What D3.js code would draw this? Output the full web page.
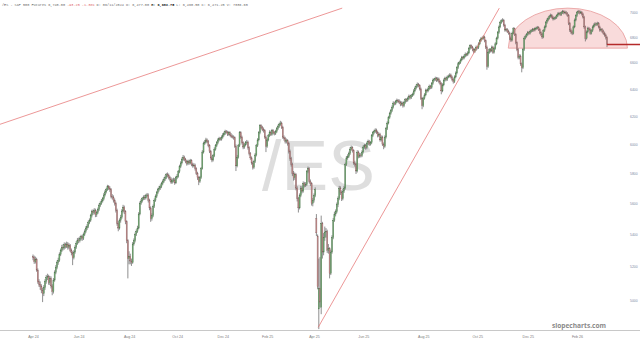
<!DOCTYPE html>
<html><head><meta charset="utf-8">
<script src="https://cdn.jsdelivr.net/npm/d3@7"></script>
<style>html,body{margin:0;padding:0;background:#fff;overflow:hidden}svg{display:block}</style>
</head><body><svg id="c" width="640" height="342"></svg>
<script>
const opens=[
5262,5255,5230,5245,5180,5110,5095,5080,5060,5040,
5075,5110,5135,5140,5105,5130,5085,5050,5120,5165,
5195,5225,5240,5275,5300,5320,5315,5335,5325,5340,
5320,5330,5300,5285,5255,5290,5320,5345,5365,5360,
5375,5385,5375,5400,5420,5440,5450,5475,5490,5520,
5545,5540,5555,5525,5540,5560,5585,5600,5615,5630,
5655,5675,5690,5712,5700,5690,5645,5640,5620,5600,
5555,5470,5440,5490,5510,5550,5575,5545,5480,5360,
5250,5265,5235,5225,5340,5360,5400,5420,5440,5530,
5600,5615,5630,5640,5635,5650,5655,5620,5570,5500,
5520,5580,5620,5645,5670,5690,5700,5710,5730,5745,
5760,5770,5790,5785,5770,5760,5740,5750,5755,5735,
5770,5780,5810,5845,5870,5895,5910,5895,5880,5865,
5880,5870,5885,5860,5850,5855,5830,5800,5770,5745,
5770,5830,5945,6005,6015,6030,6020,5990,5950,5905,
5890,5920,5965,5990,6010,6030,6040,6035,6050,6065,
6075,6090,6085,6070,6080,6065,6055,6050,6045,5985,
5850,5910,5990,6080,6050,6010,5980,5995,6010,6015,
5975,5935,5905,5870,5840,5880,5925,5990,6030,6080,
6130,6120,6105,6095,6050,5985,6030,6060,6085,6070,
6095,6080,6075,6090,6110,6125,6140,6150,6120,6050,
6040,6020,6025,6005,5950,5900,5860,5800,5770,5790,
5700,5630,5570,5650,5700,5680,5730,5720,5725,5810,
5830,5745,5730,5600,5620,5650,5500,5390,4950,5070,
4960,5470,5290,5380,5415,5420,5300,5310,5160,5290,
5380,5490,5530,5545,5590,5630,5700,5670,5630,5680,
5700,5860,5905,5915,5935,5965,5975,5955,5870,5860,
5815,5945,5915,5925,5920,5945,5980,5990,5975,6005,
6020,6000,6010,6060,6080,6090,6100,6085,6060,6070,
6030,6050,6000,5985,6050,6110,6150,6190,6220,6240,
6265,6295,6290,6305,6315,6310,6300,6285,6295,6275,
6300,6320,6315,6330,6345,6335,6350,6360,6385,6405,
6420,6435,6425,6400,6330,6275,6330,6355,6390,6385,
6400,6420,6410,6440,6465,6470,6480,6465,6475,6455,
6440,6385,6430,6465,6480,6470,6490,6495,6505,6490,
6470,6455,6490,6520,6560,6590,6600,6620,6640,6635,
6650,6665,6660,6675,6710,6730,6720,6700,6685,6700,
6720,6715,6745,6770,6785,6790,6800,6770,6720,6570,
6680,6700,6690,6720,6680,6710,6745,6790,6835,6880,
6915,6930,6935,6895,6855,6860,6845,6830,6790,6775,
6830,6865,6820,6755,6700,6640,6650,6590,6560,6700,
6790,6805,6820,6835,6830,6845,6850,6860,6855,6865,
6870,6875,6860,6835,6820,6800,6850,6880,6915,6935,
6950,6965,6975,6960,6945,6950,6955,6970,6985,6990,
6980,6995,7005,6995,7000,6990,6975,6910,6855,6840,
6830,6880,6935,6970,6995,7005,6995,7000,6985,6960,
6880,6790,6840,6870,6860,6830,6850,6880,6895,6905,
6900,6910,6880,6855,6860,6845,6830,6815,6795];
const highs=[
5275,5268,5262,5255,5190,5125,5112,5095,5075,5090,
5125,5150,5158,5152,5145,5142,5095,5132,5178,5210,
5238,5255,5288,5312,5335,5338,5350,5348,5355,5352,
5345,5340,5312,5295,5302,5332,5358,5378,5380,5388,
5398,5395,5412,5432,5452,5465,5488,5502,5532,5558,
5560,5568,5565,5552,5572,5598,5612,5628,5642,5668,
5688,5702,5722,5720,5712,5700,5660,5652,5632,5610,
5565,5485,5502,5525,5562,5590,5585,5555,5490,5370,
5295,5280,5250,5352,5375,5412,5432,5455,5542,5612,
5628,5642,5652,5655,5662,5668,5665,5630,5580,5535,
5592,5632,5658,5682,5702,5715,5725,5742,5758,5772,
5785,5802,5805,5798,5782,5772,5765,5770,5768,5782,
5795,5822,5858,5882,5908,5925,5920,5905,5890,5892,
5892,5898,5895,5872,5868,5865,5840,5810,5780,5782,
5842,5958,6018,6030,6045,6040,6030,6000,5960,5918,
5932,5978,6002,6022,6042,6052,6050,6062,6078,6088,
6102,6100,6095,6092,6090,6078,6068,6062,6055,5998,
5925,6002,6092,6092,6060,6020,6008,6022,6030,6025,
5985,5945,5915,5880,5892,5938,6002,6042,6092,6142,
6140,6130,6118,6105,6060,6042,6072,6098,6095,6108,
6105,6092,6102,6122,6138,6152,6166,6160,6130,6062,
6052,6040,6035,6015,5962,5912,5872,5815,5805,5800,
5712,5642,5665,5715,5712,5745,5742,5740,5822,5845,
5840,5758,5740,5635,5665,5705,5530,5400,5250,5260,
5520,5480,5410,5450,5440,5430,5340,5320,5305,5395,
5505,5545,5560,5605,5645,5715,5712,5685,5695,5715,
5872,5918,5930,5948,5978,5990,5985,5965,5885,5870,
5958,5955,5940,5938,5958,5992,6002,6002,6018,6032,
6030,6022,6072,6092,6102,6112,6110,6095,6082,6080,
6062,6060,6012,6062,6122,6162,6202,6232,6252,6278,
6308,6305,6318,6328,6325,6322,6312,6308,6305,6312,
6332,6330,6342,6358,6355,6362,6372,6398,6418,6432,
6448,6445,6435,6410,6340,6342,6368,6402,6400,6412,
6432,6430,6452,6478,6482,6492,6490,6488,6485,6465,
6450,6442,6478,6492,6490,6502,6508,6518,6515,6500,
6480,6502,6532,6572,6602,6612,6632,6652,6650,6662,
6678,6675,6688,6722,6742,6740,6730,6712,6712,6732,
6730,6758,6782,6798,6802,6812,6810,6780,6732,6692,
6712,6712,6732,6730,6722,6758,6802,6848,6892,6928,
6942,6950,6945,6905,6872,6870,6858,6840,6802,6842,
6878,6875,6830,6765,6712,6665,6662,6600,6712,6802,
6818,6832,6848,6845,6858,6862,6872,6870,6878,6882,
6888,6885,6870,6845,6832,6862,6892,6928,6948,6962,
6978,6988,6985,6970,6962,6968,6982,6998,7002,7000,
7008,7018,7015,7012,7010,7000,6985,6920,6868,6852,
6892,6948,6982,7008,7018,7015,7012,7010,6995,6970,
6890,6852,6882,6880,6870,6862,6892,6908,6918,6915,
6922,6920,6890,6872,6870,6858,6842,6825,6805];
const lows=[
5240,5218,5220,5170,5098,5080,5062,5042,4990,5025,
5062,5098,5120,5092,5090,5070,5030,5040,5110,5155,
5185,5212,5230,5265,5290,5300,5305,5312,5315,5305,
5308,5290,5270,5210,5245,5280,5310,5335,5345,5350,
5362,5360,5365,5390,5410,5428,5440,5465,5480,5508,
5525,5528,5510,5512,5530,5550,5575,5590,5605,5620,
5645,5665,5682,5688,5675,5632,5625,5605,5585,5540,
5455,5420,5430,5475,5500,5540,5530,5465,5345,5130,
5215,5215,5205,5218,5330,5350,5390,5410,5432,5522,
5590,5605,5620,5622,5625,5640,5605,5555,5480,5488,
5510,5570,5610,5635,5660,5678,5688,5700,5720,5735,
5748,5760,5772,5758,5745,5728,5730,5738,5722,5728,
5760,5770,5800,5835,5860,5885,5882,5868,5852,5855,
5858,5860,5848,5838,5840,5818,5788,5755,5720,5735,
5762,5825,5935,5995,6005,6008,5978,5938,5892,5875,
5880,5910,5955,5980,6000,6020,6025,6025,6040,6055,
6065,6075,6058,6060,6055,6045,6040,6032,5975,5815,
5840,5900,5980,6038,5998,5965,5968,5985,5998,5962,
5922,5892,5858,5825,5830,5870,5915,5980,6020,6070,
6108,6092,6082,6038,5945,5975,6020,6050,6058,6060,
6068,6062,6065,6080,6100,6115,6130,6108,6038,6025,
6005,6005,5990,5935,5885,5845,5782,5750,5755,5685,
5612,5540,5560,5640,5665,5670,5705,5708,5715,5800,
5732,5715,5585,5580,5605,5640,5390,5065,4835,4960,
4920,5250,5270,5360,5380,5285,5280,5130,5150,5280,
5370,5480,5515,5535,5575,5620,5655,5615,5620,5668,
5690,5850,5892,5905,5925,5955,5942,5858,5845,5795,
5805,5902,5905,5908,5910,5935,5968,5962,5965,5995,
5988,5990,6000,6050,6070,6080,6072,6048,6050,6018,
6020,5988,5965,5975,6040,6100,6140,6180,6210,6230,
6255,6278,6280,6295,6298,6288,6272,6275,6262,6265,
6290,6302,6305,6320,6322,6325,6340,6350,6375,6395,
6410,6412,6388,6318,6250,6265,6320,6345,6372,6375,
6390,6398,6400,6430,6455,6460,6452,6455,6442,6428,
6360,6375,6420,6455,6458,6460,6480,6485,6478,6458,
6440,6445,6480,6510,6550,6580,6590,6610,6622,6625,
6640,6648,6650,6665,6700,6708,6688,6672,6675,6690,
6702,6705,6735,6760,6775,6780,6758,6705,6545,6560,
6668,6678,6680,6668,6670,6700,6735,6780,6825,6870,
6905,6918,6882,6842,6845,6832,6818,6775,6760,6765,
6820,6808,6742,6688,6625,6625,6575,6525,6550,6690,
6780,6795,6810,6818,6820,6835,6840,6842,6845,6855,
6860,6848,6822,6808,6785,6790,6840,6870,6905,6925,
6940,6955,6948,6932,6935,6940,6945,6960,6975,6968,
6970,6985,6982,6985,6978,6962,6895,6840,6825,6815,
6820,6870,6925,6960,6985,6982,6985,6972,6948,6865,
6765,6780,6830,6848,6818,6820,6840,6870,6885,6888,
6890,6868,6842,6845,6832,6818,6802,6780,6720];
const closes=[
5255,5230,5245,5180,5110,5095,5080,5060,5040,5075,
5110,5135,5140,5105,5130,5085,5050,5120,5165,5195,
5225,5240,5275,5300,5320,5315,5335,5325,5340,5320,
5330,5300,5285,5255,5290,5320,5345,5365,5360,5375,
5385,5375,5400,5420,5440,5450,5475,5490,5520,5545,
5540,5555,5525,5540,5560,5585,5600,5615,5630,5655,
5675,5690,5712,5700,5690,5645,5640,5620,5600,5555,
5470,5440,5490,5510,5550,5575,5545,5480,5360,5250,
5265,5235,5225,5340,5360,5400,5420,5440,5530,5600,
5615,5630,5640,5635,5650,5655,5620,5570,5500,5520,
5580,5620,5645,5670,5690,5700,5710,5730,5745,5760,
5770,5790,5785,5770,5760,5740,5750,5755,5735,5770,
5780,5810,5845,5870,5895,5910,5895,5880,5865,5880,
5870,5885,5860,5850,5855,5830,5800,5770,5745,5770,
5830,5945,6005,6015,6030,6020,5990,5950,5905,5890,
5920,5965,5990,6010,6030,6040,6035,6050,6065,6075,
6090,6085,6070,6080,6065,6055,6050,6045,5985,5850,
5910,5990,6080,6050,6010,5980,5995,6010,6015,5975,
5935,5905,5870,5840,5880,5925,5990,6030,6080,6130,
6120,6105,6095,6050,5985,6030,6060,6085,6070,6095,
6080,6075,6090,6110,6125,6140,6150,6120,6050,6040,
6020,6025,6005,5950,5900,5860,5800,5770,5790,5700,
5630,5570,5650,5700,5680,5730,5720,5725,5810,5830,
5745,5730,5600,5620,5650,5690,5410,5080,5070,4990,
5470,5290,5380,5415,5420,5300,5310,5160,5290,5380,
5490,5530,5545,5590,5630,5700,5670,5630,5680,5700,
5860,5905,5915,5935,5965,5975,5955,5870,5860,5815,
5945,5915,5925,5920,5945,5980,5990,5975,6005,6020,
6000,6010,6060,6080,6090,6100,6085,6060,6070,6030,
6050,6000,5985,6050,6110,6150,6190,6220,6240,6265,
6295,6290,6305,6315,6310,6300,6285,6295,6275,6300,
6320,6315,6330,6345,6335,6350,6360,6385,6405,6420,
6435,6425,6400,6330,6275,6330,6355,6390,6385,6400,
6420,6410,6440,6465,6470,6480,6465,6475,6455,6440,
6385,6430,6465,6480,6470,6490,6495,6505,6490,6470,
6455,6490,6520,6560,6590,6600,6620,6640,6635,6650,
6665,6660,6675,6710,6730,6720,6700,6685,6700,6720,
6715,6745,6770,6785,6790,6800,6770,6720,6570,6680,
6700,6690,6720,6680,6710,6745,6790,6835,6880,6915,
6930,6935,6895,6855,6860,6845,6830,6790,6775,6830,
6865,6820,6755,6700,6640,6650,6590,6560,6700,6790,
6805,6820,6835,6830,6845,6850,6860,6855,6865,6870,
6875,6860,6835,6820,6800,6850,6880,6915,6935,6950,
6965,6975,6960,6945,6950,6955,6970,6985,6990,6980,
6995,7005,6995,7000,6990,6975,6910,6855,6840,6830,
6880,6935,6970,6995,7005,6995,7000,6985,6960,6880,
6790,6840,6870,6860,6830,6850,6880,6895,6905,6900,
6910,6880,6855,6860,6845,6830,6815,6795,6740];

const xTickIdx=[0,38,80,120,158,195,234,275,325,370,412,453];
const xTickLabels=["Apr 24","Jun 24","Aug 24","Oct 24","Dec 24","Feb 25","Apr 25","Jun 25","Aug 25","Oct 25","Dec 25","Feb 26"];
const yTicks=[5000,5200,5400,5600,5800,6000,6200,6400,6600,6800,7000];
const trendA=[[-27.5,6141],[257.5,7033]];
const trendB=[[237.5,4845],[388.3,7033]];
const arcIdx=[395.8,495];
const arcPrice=[6712,7033];
const lastPrice=6740;
const headerParts=[
 {t:"/ES - S&P 500 Futures 6,740.00 ",c:"#6a6a6a",w:"normal"},
 {t:"-93.25 -1.38% ",c:"#e06a6a",w:"normal"},
 {t:"D: 06/11/2024 O: 6,477.00 ",c:"#6a6a6a",w:"normal"},
 {t:"H: 6,683.75",c:"#222",w:"bold"},
 {t:" L: 6,460.50 C: 6,471.25 V: 7036.65",c:"#6a6a6a",w:"normal"}];

const svg=d3.select("#c");
svg.append("rect").attr("width",640).attr("height",342).attr("fill","#fff");
const N=closes.length;
const x=d3.scaleLinear().domain([0,N-1]).range([33,607]);
const y=d3.scaleLog().domain([4830,7100]).range([330,0]);

// watermark
svg.append("text").attr("x",262).attr("y",190).text("/ES")
 .attr("font-family","Liberation Sans, Arial, sans-serif").attr("font-size",70)
 .attr("fill","#d6d6d6").attr("fill-opacity",0.8);

// arc (half ellipse)
{
 const xl=x(arcIdx[0]),xr=x(arcIdx[1]),cy=y(arcPrice[0]),rx=(xr-xl)/2,ry=cy-y(arcPrice[1]);
 svg.append("path").attr("d",`M${xl},${cy} A${rx},${ry} 0 0 1 ${xr},${cy} Z`)
  .attr("fill","#f6cccc").attr("fill-opacity",0.7).attr("stroke","#e79a9a").attr("stroke-width",0.8);
}

// candles
const g=svg.append("g");
const data=d3.range(N).map(i=>({i,o:opens[i],h:Math.max(highs[i],opens[i],closes[i]),l:Math.min(lows[i],opens[i],closes[i]),c:closes[i]}));
g.selectAll("line.w").data(data).join("line").attr("class","w")
 .attr("x1",d=>x(d.i)).attr("x2",d=>x(d.i)).attr("y1",d=>y(d.h)).attr("y2",d=>y(d.l))
 .attr("stroke","#5e5e5e").attr("stroke-width",0.7);
g.selectAll("rect.b").data(data).join("rect").attr("class","b")
 .attr("x",d=>x(d.i)-0.55).attr("width",1.1)
 .attr("y",d=>y(Math.max(d.o,d.c)))
 .attr("height",d=>Math.max(0.7,y(Math.min(d.o,d.c))-y(Math.max(d.o,d.c))))
 .attr("fill",d=>d.c>=d.o?"#72a872":"#c08a8a")
 .attr("stroke",d=>d.c>=d.o?"#4f7a4f":"#8a6060").attr("stroke-width",0.3);

// trendlines
const ln=d3.line().x(d=>x(d[0])).y(d=>y(d[1]));
[trendA,trendB].forEach(t=>svg.append("path").attr("d",ln(t)).attr("fill","none")
 .attr("stroke","#e46a6a").attr("stroke-width",0.7));

// last price line
svg.append("line").attr("x1",x(N-1)).attr("x2",640).attr("y1",y(lastPrice)).attr("y2",y(lastPrice))
 .attr("stroke","#b52a2a").attr("stroke-width",1.4);

// x axis
svg.append("line").attr("x1",0).attr("x2",640).attr("y1",330.5).attr("y2",330.5).attr("stroke","#c8c8c8").attr("stroke-width",1);
const xa=svg.append("g").attr("transform","translate(0,330)")
 .call(d3.axisBottom(x).tickValues(xTickIdx).tickFormat((d,i)=>xTickLabels[i]).tickSize(0));
xa.select(".domain").remove();
xa.selectAll("text").attr("y",5).attr("font-size",3.6).attr("fill","#7a7a7a").attr("font-family","Liberation Sans, Arial, sans-serif");

// y axis
const ya=svg.append("g").attr("transform","translate(629,0)")
 .call(d3.axisRight(y).tickValues(yTicks).tickFormat(d3.format("d")).tickSize(0));
ya.select(".domain").remove();
ya.selectAll("text").attr("x",1).attr("font-size",3.4).attr("fill","#7c88a4").attr("font-family","Liberation Sans, Arial, sans-serif");

// header
const ht=svg.append("text").attr("x",2).attr("y",5.5).attr("font-family","Liberation Mono, DejaVu Sans Mono, monospace").attr("font-size",3.5).attr("xml:space","preserve");
headerParts.forEach(p=>ht.append("tspan").text(p.t).attr("fill",p.c).attr("font-weight",p.w));

// brand
svg.append("text").attr("x",606).attr("y",327.5).attr("text-anchor","end").text("slopecharts.com")
 .attr("font-family","Open Sans, Liberation Sans, sans-serif").attr("font-weight","bold").attr("font-size",6.6).attr("fill","#8a8a8a");
</script></body></html>
